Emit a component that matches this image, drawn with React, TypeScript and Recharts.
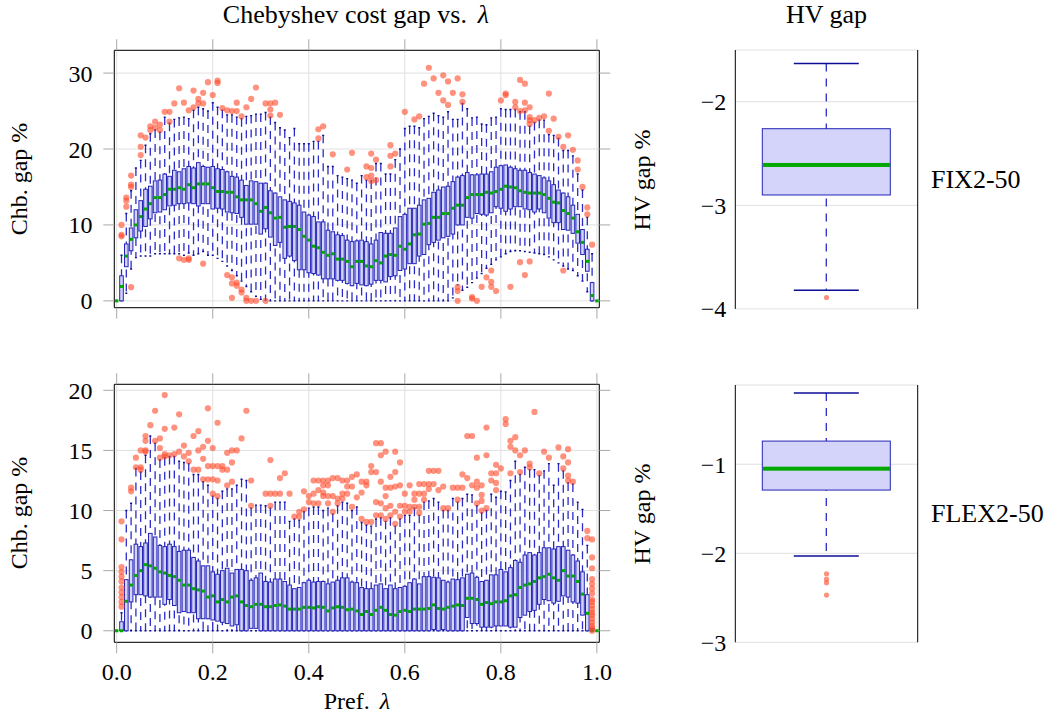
import React from "react";
import { ComposedChart, Bar, Line, Scatter, XAxis, YAxis, CartesianGrid } from "recharts";

// preference values (one box per value)
const lambdas = [
  0, 0.01, 0.02, 0.03, 0.04, 0.05, 0.06, 0.07, 0.08, 0.09,
  0.1, 0.11, 0.12, 0.13, 0.14, 0.15, 0.16, 0.17, 0.18, 0.19,
  0.2, 0.21, 0.22, 0.23, 0.24, 0.25, 0.26, 0.27, 0.28, 0.29,
  0.3, 0.31, 0.32, 0.33, 0.34, 0.35, 0.36, 0.37, 0.38, 0.39,
  0.4, 0.41, 0.42, 0.43, 0.44, 0.45, 0.46, 0.47, 0.48, 0.49,
  0.5, 0.51, 0.52, 0.53, 0.54, 0.55, 0.56, 0.57, 0.58, 0.59,
  0.6, 0.61, 0.62, 0.63, 0.64, 0.65, 0.66, 0.67, 0.68, 0.69,
  0.7, 0.71, 0.72, 0.73, 0.74, 0.75, 0.76, 0.77, 0.78, 0.79,
  0.8, 0.81, 0.82, 0.83, 0.84, 0.85, 0.86, 0.87, 0.88, 0.89,
  0.9, 0.91, 0.92, 0.93, 0.94, 0.95, 0.96, 0.97, 0.98, 0.99,
  1,
];
const xTicks = [0, 0.2, 0.4, 0.6, 0.8, 1];

// FIX2-50, Chebyshev gap %
const fixMin = [
  0, 0, 1.0, 4.2, 5.7, 5.9, 5.9, 5.9, 6.2, 6.2,
  6.2, 6.2, 6.2, 6.2, 6.0, 6.3, 6.0, 6.2, 6.5, 6.0,
  6.0, 5.6, 5.2, 4.6, 4.0, 3.3, 2.6, 1.9, 1.2, 0.6,
  0.2, 0.1, 0, 0, 0, 0, 0, 0, 0, 0,
  0, 0, 0, 0, 0, 0, 0, 0, 0, 0,
  0, 0, 0, 0, 0, 0, 0, 0, 0, 0,
  0, 0, 0, 0, 0, 0, 0, 0, 0, 0,
  0.4, 2.1, 1.4, 1.8, 2.4, 3.0, 3.6, 4.3, 4.8, 5.4,
  5.8, 6.2, 6.5, 6.6, 6.6, 6.5, 6.4, 6.3, 6.2, 6.1,
  5.8, 5.4, 5.0, 4.6, 4.2, 4.0, 3.3, 2.6, 1.2, 0,
  0,
];
const fixQ1 = [
  0, 0, 4.5, 6.6, 8.3, 9.2, 9.8, 10.8, 11.6, 11.7,
  12.0, 12.5, 12.6, 12.8, 12.8, 12.9, 12.8, 12.5, 12.8, 12.8,
  12.1, 12.2, 12.1, 11.7, 11.6, 11.5, 11.0, 10.1, 10.1, 10.1,
  8.8, 9.5, 8.4, 7.3, 7.7, 5.6, 5.9, 5.3, 4.1, 4.1,
  3.7, 3.6, 3.4, 2.9, 2.9, 2.9, 2.7, 2.7, 2.3, 2.0,
  2.3, 2.1, 2.0, 2.2, 2.7, 2.7, 2.5, 3.2, 3.3, 4.0,
  4.2, 4.9, 4.9, 5.9, 6.1, 7.4, 7.7, 8.0, 8.3, 8.5,
  8.8, 10.0, 10.0, 11.0, 10.9, 11.5, 11.4, 11.3, 11.6, 12.4,
  12.2, 11.8, 12.1, 12.4, 12.4, 12.1, 12.0, 11.7, 12.1, 11.6,
  10.9, 10.3, 10.3, 9.4, 9.3, 8.9, 7.6, 6.1, 3.9, 0,
  0,
];
const fixMed = [
  0, 1.9, 5.9, 8.1, 10.0, 11.1, 12.1, 12.8, 13.6, 13.6,
  14.0, 14.7, 14.7, 14.9, 14.7, 15.3, 14.9, 15.4, 15.4, 15.4,
  14.9, 14.4, 14.4, 14.3, 14.3, 13.7, 13.3, 13.3, 13.3, 12.8,
  11.8, 12.3, 11.6, 10.9, 11.0, 9.7, 9.8, 9.8, 9.4, 8.5,
  8.0, 7.2, 7.0, 6.4, 6.0, 6.2, 5.5, 5.5, 5.2, 4.5,
  5.2, 5.2, 4.6, 4.5, 5.3, 5.0, 5.9, 6.1, 6.0, 7.2,
  6.8, 7.5, 8.7, 8.8, 10.1, 10.2, 11.0, 11.0, 11.5, 11.5,
  12.2, 12.6, 12.6, 13.6, 14.0, 14.0, 14.0, 14.3, 14.2, 14.4,
  14.7, 15.1, 15.0, 14.9, 14.5, 14.3, 14.2, 14.2, 14.2, 14.0,
  13.5, 13.0, 12.9, 11.9, 11.5, 10.9, 9.1, 7.7, 5.2, 0.7,
  0,
];
const fixQ3 = [
  0, 3.3, 7.5, 9.6, 12.0, 13.2, 14.7, 15.1, 15.8, 15.9,
  16.7, 16.4, 17.2, 17.0, 17.4, 17.7, 17.5, 18.2, 17.7, 17.6,
  17.7, 17.4, 17.3, 17.0, 16.4, 16.3, 15.9, 15.2, 15.8, 15.7,
  15.5, 15.5, 14.5, 14.2, 13.7, 13.3, 13.1, 12.9, 12.6, 11.7,
  11.3, 11.1, 10.4, 10.4, 9.3, 9.1, 8.7, 8.6, 8.0, 7.8,
  7.9, 8.0, 7.8, 7.5, 8.0, 9.0, 8.9, 8.9, 9.6, 11.1,
  11.4, 12.2, 12.2, 12.6, 13.3, 13.5, 14.3, 14.6, 15.0, 15.1,
  15.7, 16.3, 16.5, 16.9, 16.6, 16.6, 16.7, 16.7, 17.0, 17.6,
  17.8, 17.9, 17.6, 17.4, 17.2, 17.2, 16.9, 16.7, 16.5, 16.2,
  15.8, 15.3, 14.6, 14.2, 13.7, 12.6, 11.4, 9.4, 6.8, 2.4,
  0,
];
const fixMax = [
  0, 6.0, 11.5, 14.5, 17.5, 18.5, 20.5, 22.0, 22.5, 22.2,
  24.2, 23.4, 23.9, 24.1, 24.2, 24.0, 25.1, 25.5, 25.3, 25.0,
  26.1, 25.5, 25.1, 24.5, 24.5, 24.2, 24.0, 24.3, 24.4, 24.6,
  24.6, 24.8, 24.2, 23.5, 22.8, 22.5, 21.5, 22.7, 20.7, 20.7,
  20.7, 21.0, 21.0, 21.8, 17.7, 17.7, 16.5, 16.3, 16.1, 15.9,
  15.5, 16.5, 15.9, 15.8, 18.1, 18.1, 16.7, 16.7, 18.6, 20.0,
  22.7, 23.0, 23.0, 22.8, 24.0, 24.3, 24.7, 24.4, 24.2, 24.9,
  23.9, 23.9, 26.0, 25.3, 24.1, 24.2, 23.3, 23.2, 24.1, 24.2,
  25.3, 25.2, 25.2, 25.2, 24.9, 24.9, 23.0, 23.5, 23.8, 23.8,
  21.9, 21.8, 21.4, 19.8, 19.8, 19.1, 16.7, 14.6, 11.0, 6.2,
  0,
];
const fixOutliers = [
  [0.01, 10.0], [0.01, 8.7], [0.01, 8.5], [0.02, 13.6], [0.02, 13.2], [0.02, 12.4],
  [0.03, 16.5], [0.03, 15.3], [0.03, 15.0], [0.03, 1.8], [0.05, 21.8], [0.05, 20.3],
  [0.05, 19.2], [0.06, 21.5], [0.07, 23.0], [0.07, 22.5], [0.08, 23.6], [0.08, 22.8],
  [0.09, 23.2], [0.09, 22.5], [0.1, 24.9], [0.11, 24.9], [0.11, 23.6], [0.12, 26.0],
  [0.13, 28.0], [0.14, 26.1], [0.15, 25.1], [0.16, 27.7], [0.16, 25.5], [0.17, 26.6],
  [0.17, 26.0], [0.18, 27.4], [0.18, 26.0], [0.19, 28.8], [0.2, 27.1], [0.21, 29.0],
  [0.21, 28.7], [0.22, 25.4], [0.23, 25.1], [0.24, 25.0], [0.25, 26.1], [0.25, 25.0],
  [0.26, 24.3], [0.27, 25.5], [0.28, 26.6], [0.29, 28.1], [0.31, 26.0], [0.32, 26.0],
  [0.32, 25.2], [0.32, 24.4], [0.33, 26.1], [0.34, 24.5],
  [0.42, 22.6], [0.42, 21.4], [0.43, 23.0], [0.45, 19.3], [0.48, 17.3], [0.49, 19.5],
  [0.52, 17.7], [0.52, 16.3], [0.53, 19.4], [0.53, 17.5], [0.53, 16.5], [0.53, 15.8],
  [0.54, 18.6], [0.54, 15.9], [0.57, 20.5], [0.57, 19.1], [0.57, 17.7], [0.58, 19.4],
  [0.6, 24.9], [0.62, 23.9], [0.63, 24.3], [0.64, 28.6], [0.65, 30.7], [0.66, 29.3],
  [0.67, 27.4], [0.68, 29.7], [0.68, 26.4], [0.69, 28.9], [0.69, 25.8], [0.7, 27.4],
  [0.71, 29.3], [0.72, 27.2], [0.72, 26.2], [0.8, 26.4], [0.81, 27.3], [0.81, 27.1],
  [0.83, 26.2], [0.83, 25.5], [0.84, 29.1], [0.84, 25.0], [0.85, 28.6], [0.85, 26.1],
  [0.85, 25.1], [0.86, 25.5], [0.86, 24.2], [0.86, 23.8], [0.86, 23.3], [0.87, 23.8],
  [0.88, 24.1], [0.89, 24.3], [0.9, 27.3], [0.9, 22.4], [0.91, 24.0], [0.92, 21.6],
  [0.93, 20.3], [0.94, 21.8], [0.95, 19.9], [0.96, 18.5], [0.96, 17.3], [0.97, 15.0],
  [0.98, 12.3], [0.98, 11.4], [0.99, 7.4],
  [0.13, 5.6], [0.14, 5.4], [0.15, 5.4], [0.15, 5.6], [0.18, 4.9], [0.23, 3.4],
  [0.24, 3.1], [0.24, 2.3], [0.24, 0.4], [0.25, 2.4], [0.25, 2.0], [0.26, 1.5],
  [0.26, 1.1], [0.27, 0.4], [0.27, 0], [0.28, 0], [0.29, 0], [0.31, 0],
  [0.71, 1.8], [0.71, 1.3], [0.71, 0], [0.74, 0.5], [0.74, 0.3], [0.75, 0],
  [0.76, 1.85], [0.77, 3.1], [0.78, 4.0], [0.78, 2.5], [0.78, 1.85], [0.79, 1.3],
  [0.82, 1.85], [0.84, 5.1], [0.85, 3.4], [0.86, 5.2], [0.93, 4.0],
];

// FLEX2-50, Chebyshev gap %
const flexMin = [
  0, 0, 0, 0, 0, 0, 0, 0, 0, 0,
  0, 0, 0, 0, 0, 0, 0, 0, 0, 0,
  0, 0, 0, 0, 0, 0, 0, 0, 0, 0,
  0, 0, 0, 0, 0, 0, 0, 0, 0, 0,
  0, 0, 0, 0, 0, 0, 0, 0, 0, 0,
  0, 0, 0, 0, 0, 0, 0, 0, 0, 0,
  0, 0, 0, 0, 0, 0, 0, 0, 0, 0,
  0, 0, 0, 0, 0, 0, 0, 0, 0, 0,
  0, 0, 0, 0, 0, 0, 0, 0, 0, 0,
  0, 0, 0, 0, 0, 0, 0, 0, 0, 0,
  0,
];
const flexQ1 = [
  0, 0, 0, 2.4, 3.0, 3.0, 2.9, 2.8, 2.8, 2.8,
  2.2, 2.6, 2.1, 1.5, 1.6, 1.5, 1.5, 1.0, 1.0, 1.0,
  0.9, 0.8, 0.7, 0.6, 0.4, 0.5, 0, 0, 0.2, 0.2,
  0, 0, 0, 0, 0, 0, 0, 0, 0, 0,
  0, 0, 0, 0, 0, 0, 0, 0, 0, 0,
  0, 0, 0, 0, 0, 0, 0, 0, 0, 0,
  0, 0, 0, 0, 0, 0, 0.1, 0, 0.1, 0,
  0, 0, 0, 1.1, 0.6, 0.6, 0.3, 0.3, 0.3, 0.4,
  0.4, 0.4, 0.3, 0.3, 1.1, 1.3, 1.6, 1.7, 2.2, 2.6,
  2.5, 2.3, 2.45, 2.9, 2.8, 2.4, 2.3, 1.3, 0, 0,
  0,
];
const flexMed = [
  0, 0, 2.45, 3.8, 4.6, 5.0, 5.5, 5.4, 5.2, 4.9,
  4.8, 4.6, 4.5, 4.2, 3.8, 3.8, 3.5, 3.4, 3.3, 2.8,
  2.9, 2.4, 2.6, 2.4, 2.8, 2.9, 2.4, 2.1, 2.0, 2.2,
  2.2, 2.0, 2.0, 2.1, 2.15, 2.05, 1.8, 1.8, 1.8, 1.95,
  1.95, 1.9, 2.0, 1.95, 1.65, 1.9, 2.0, 1.95, 1.75, 1.8,
  1.65, 1.35, 1.6, 1.35, 1.7, 1.95, 1.7, 1.35, 1.3, 1.6,
  1.7, 1.6, 1.8, 1.8, 1.8, 1.85, 2.15, 1.85, 1.8, 1.95,
  2.05, 2.15, 2.1, 2.7, 2.7, 2.6, 2.2, 2.35, 2.25, 2.4,
  2.4, 2.5, 2.9, 3.0, 3.6, 3.8, 3.9, 4.1, 4.4, 4.5,
  4.7, 4.4, 4.2, 5.0, 4.55, 4.55, 4.1, 3.05, 1.45, 0,
  0,
];
const flexQ3 = [
  0, 0.75, 4.25, 5.9, 7.2, 7.0, 7.3, 8.1, 7.8, 7.1,
  7.0, 7.2, 7.0, 6.6, 6.7, 6.7, 6.1, 5.8, 5.4, 5.4,
  4.9, 4.7, 5.0, 5.2, 4.8, 5.1, 5.1, 5.0, 4.2, 4.4,
  4.8, 4.1, 4.05, 4.3, 4.3, 4.1, 3.8, 3.5, 3.6, 4.0,
  4.2, 4.05, 4.1, 4.1, 3.9, 4.05, 4.2, 4.4, 4.4, 4.05,
  4.0, 3.6, 3.5, 3.5, 3.8, 3.9, 3.5, 3.8, 3.5, 3.6,
  3.7, 4.0, 4.3, 3.9, 4.5, 4.5, 4.45, 4.4, 4.2, 4.05,
  4.3, 4.25, 4.4, 4.7, 4.8, 4.45, 4.1, 4.2, 4.65, 4.65,
  5.1, 4.9, 5.25, 5.85, 5.7, 6.3, 6.5, 6.3, 6.5, 6.9,
  6.9, 6.8, 7.0, 7.0, 6.7, 6.3, 5.8, 4.9, 3.0, 0.2,
  0,
];
const flexMax = [
  0, 1.5, 10.0, 10.6, 13.5, 13.2, 14.6, 16.2, 15.6, 14.2,
  14.4, 14.5, 14.5, 14.1, 14.0, 13.9, 13.0, 13.0, 12.4, 12.1,
  11.2, 11.0, 11.6, 11.8, 11.8, 12.1, 12.6, 12.5, 10.2, 10.45,
  10.45, 10.4, 10.2, 10.7, 10.7, 10.7, 9.1, 9.3, 9.2, 9.9,
  10.2, 10.3, 10.3, 10.0, 10.2, 9.7, 10.4, 10.7, 10.6, 10.0,
  10.3, 9.0, 8.8, 8.7, 9.3, 9.4, 9.1, 9.4, 8.7, 9.3,
  9.6, 9.6, 10.2, 9.6, 10.7, 10.8, 11.0, 10.7, 10.0, 10.0,
  11.0, 10.7, 11.0, 11.35, 11.3, 10.4, 9.8, 10.0, 11.35, 11.1,
  11.6, 11.55, 12.5, 14.1, 13.0, 13.6, 13.4, 13.4, 12.9, 13.3,
  13.9, 12.1, 13.9, 13.3, 12.3, 12.2, 10.7, 10.1, 7.1, 0,
  0,
];
const flexOutliers = [
  [0.01, 9.1], [0.01, 7.6], [0.01, 5.3], [0.01, 4.9], [0.01, 4.5], [0.01, 4.1],
  [0.01, 3.6], [0.01, 3.2], [0.01, 2.8], [0.01, 2.4], [0.01, 2.0],
  [0.03, 11.9], [0.03, 11.6], [0.04, 14.4], [0.04, 13.6], [0.05, 15.0], [0.05, 13.6],
  [0.05, 13.4], [0.06, 16.2], [0.06, 15.8], [0.06, 15.0], [0.06, 14.9], [0.07, 17.1],
  [0.08, 18.3], [0.08, 15.8], [0.09, 16.0], [0.09, 15.2], [0.09, 14.4], [0.1, 19.6],
  [0.1, 16.8], [0.1, 14.7], [0.1, 14.5], [0.11, 14.6], [0.12, 16.9], [0.12, 14.7],
  [0.13, 18.0], [0.13, 14.9], [0.14, 15.4], [0.14, 14.5], [0.15, 14.8], [0.15, 14.1],
  [0.16, 16.2], [0.16, 13.4], [0.17, 16.6], [0.17, 15.0], [0.17, 13.4], [0.18, 15.3],
  [0.18, 14.3], [0.18, 12.6], [0.19, 18.5], [0.19, 15.8], [0.19, 13.7], [0.19, 12.6],
  [0.2, 15.2], [0.2, 13.7], [0.2, 12.6], [0.2, 11.4], [0.21, 17.3], [0.21, 13.7],
  [0.21, 12.5], [0.21, 11.2], [0.22, 13.7], [0.22, 13.4], [0.23, 14.8], [0.23, 13.4],
  [0.23, 12.1], [0.24, 15.0], [0.24, 14.0], [0.24, 12.4], [0.25, 15.0], [0.26, 16.0],
  [0.27, 18.3], [0.28, 12.5], [0.28, 10.4], [0.31, 11.4], [0.32, 14.2], [0.32, 11.4],
  [0.32, 10.4], [0.33, 11.4], [0.34, 12.7], [0.34, 11.4], [0.35, 13.1], [0.36, 11.4],
  [0.37, 9.5], [0.38, 9.9], [0.38, 9.5], [0.39, 11.6], [0.39, 10.1], [0.4, 11.2],
  [0.4, 10.7], [0.41, 12.5], [0.41, 11.4], [0.41, 10.6], [0.42, 12.5], [0.42, 11.7],
  [0.42, 10.6], [0.43, 12.5], [0.43, 12.1], [0.43, 11.5], [0.43, 11.2], [0.44, 12.5],
  [0.44, 12.1], [0.44, 11.2], [0.44, 10.6], [0.45, 12.7], [0.45, 11.2], [0.45, 9.9],
  [0.46, 12.7], [0.46, 11.0], [0.46, 10.6], [0.47, 12.5], [0.47, 11.4], [0.47, 11.0],
  [0.48, 12.5], [0.48, 12.0], [0.48, 11.4], [0.49, 12.8], [0.49, 12.0], [0.49, 10.3],
  [0.5, 13.0], [0.5, 11.1], [0.51, 12.4], [0.51, 11.5], [0.51, 9.3], [0.52, 12.4],
  [0.52, 12.1], [0.52, 9.05], [0.53, 13.7], [0.53, 13.2], [0.53, 9.05], [0.54, 15.6],
  [0.54, 13.2], [0.54, 10.7], [0.54, 9.6], [0.55, 15.6], [0.55, 14.6], [0.55, 12.4],
  [0.55, 10.6], [0.55, 9.6], [0.56, 14.9], [0.56, 11.9], [0.56, 11.2], [0.56, 10.2],
  [0.56, 9.3], [0.57, 12.8], [0.57, 11.9], [0.57, 10.4], [0.57, 9.6], [0.58, 14.9],
  [0.58, 13.2], [0.58, 12.0], [0.58, 9.9], [0.58, 8.9], [0.59, 14.0], [0.59, 12.1],
  [0.59, 10.4], [0.59, 9.5], [0.6, 11.4], [0.6, 10.4], [0.6, 9.9], [0.61, 12.1],
  [0.61, 10.3], [0.61, 9.9], [0.62, 11.4], [0.62, 10.9], [0.62, 10.3], [0.63, 12.2],
  [0.63, 11.4], [0.63, 10.3], [0.63, 9.8], [0.64, 12.2], [0.64, 11.4], [0.64, 10.9],
  [0.65, 13.3], [0.65, 12.2], [0.65, 11.8], [0.66, 13.3], [0.66, 12.2], [0.67, 13.3],
  [0.67, 11.7], [0.68, 12.0], [0.68, 10.2], [0.69, 10.2], [0.7, 11.9], [0.71, 11.9],
  [0.71, 10.9], [0.72, 13.0], [0.72, 11.9], [0.73, 16.2], [0.73, 12.7], [0.74, 16.2],
  [0.74, 12.1], [0.75, 14.4], [0.75, 12.4], [0.75, 11.9], [0.75, 10.6], [0.76, 12.1],
  [0.76, 11.3], [0.76, 10.8], [0.76, 10.0], [0.77, 16.9], [0.77, 14.6], [0.77, 10.2],
  [0.78, 13.1], [0.78, 12.5], [0.79, 13.8], [0.79, 13.1], [0.79, 12.3], [0.79, 11.7],
  [0.8, 13.5], [0.81, 17.6], [0.81, 17.2], [0.82, 15.8], [0.82, 15.3], [0.82, 13.1],
  [0.83, 16.1], [0.83, 15.0], [0.84, 14.6], [0.84, 13.2], [0.85, 15.0], [0.86, 13.9],
  [0.86, 13.6], [0.87, 18.2], [0.88, 13.1], [0.89, 14.9], [0.9, 14.4], [0.92, 15.25],
  [0.93, 14.5], [0.93, 13.5], [0.94, 15.1], [0.94, 14.0], [0.94, 12.9], [0.94, 12.5],
  [0.95, 12.4], [0.98, 8.3], [0.98, 7.7],
  [0.99, 7.6], [0.99, 6.1], [0.99, 5.2], [0.99, 4.3], [0.99, 3.9], [0.99, 3.5],
  [0.99, 3.1], [0.99, 2.6], [0.99, 2.4], [0.99, 2.1], [0.99, 1.8], [0.99, 1.5],
  [0.99, 1.3], [0.99, 1.0], [0.99, 0.7], [0.99, 0.4], [0.99, 0.2], [0.99, 0],
];

// HV gap %: min, q1, median, q3, max
const hvFixStats = [-3.82, -2.9, -2.61, -2.26, -1.63];
const hvFixOutliers = [-3.89];
const hvFlexStats = [-2.03, -1.29, -1.05, -0.74, -0.2];
const hvFlexOutliers = [-2.23, -2.29, -2.33, -2.47];

const SERIF = '"Liberation Serif", "Times New Roman", serif';
const GRID = "#e0e0e0";
const TICK = "#a8a8a8";
const BOX_FILL = "#d4d4fa";
const BOX_STROKE = "#2424b8";
const WHISKER = "#2a2ac8";
const CAP = "#0c0c96";
const MEDIAN = "#00a800";
const OUTLIER = "#ff4a2a";
const tickFont = { fontSize: 24, fontFamily: SERIF, fill: "#000" };
const X_DOMAIN = [-0.005, 1.005];

const rowsOf = (mins, q1s, meds, q3s, maxs) =>
  lambdas.map((x, i) => ({ x, whisk: [mins[i], maxs[i]], box: [q1s[i], q3s[i]], med: meds[i] }));

const whiskerShape = (capW: number, dash: string) => (p: any) => {
  const cx = p.x + p.width / 2;
  const top = Math.min(p.y, p.y + p.height);
  const bot = Math.max(p.y, p.y + p.height);
  if (!(bot - top > 0.01)) return <g />;
  return (
    <g>
      <line x1={cx} x2={cx} y1={top} y2={bot} stroke={WHISKER} strokeWidth={1.3} strokeDasharray={dash} />
      <line x1={cx - capW / 2} x2={cx + capW / 2} y1={top} y2={top} stroke={CAP} strokeWidth={1.4} />
      <line x1={cx - capW / 2} x2={cx + capW / 2} y1={bot} y2={bot} stroke={CAP} strokeWidth={1.4} />
    </g>
  );
};

const boxShape = (boxW: number) => (p: any) => {
  const cx = p.x + p.width / 2;
  const top = Math.min(p.y, p.y + p.height);
  const h = Math.abs(p.height);
  return <rect x={cx - boxW / 2} y={top} width={boxW} height={h} fill={BOX_FILL} stroke={BOX_STROKE} strokeWidth={1} />;
};

const medianDot = (boxW: number, thick: number) => (p: any) => (
  <rect key={`med-${p.index}`} x={p.cx - boxW / 2} y={p.cy - thick / 2} width={boxW} height={thick} fill={MEDIAN} />
);

const outlierDot = (r: number) => (p: any) => (
  <circle cx={p.cx} cy={p.cy} r={r} fill={OUTLIER} fillOpacity={0.6} />
);

function GapChart({ rows, outliers, yDomain, yTicks, height, margin, showX }) {
  const pts = outliers.map(([x, y]) => ({ x, y }));
  return (
    <ComposedChart width={620} height={height} data={rows} margin={margin}>
      <CartesianGrid xAxisId="num" yAxisId="y" stroke={GRID} />
      <XAxis
        xAxisId="num"
        dataKey="x"
        type="number"
        domain={X_DOMAIN}
        ticks={xTicks}
        interval={0}
        allowDataOverflow
        height={showX ? 40 : 15}
        axisLine={{ stroke: "#000" }}
        tickLine={{ stroke: TICK }}
        tickSize={11}
        tickMargin={9.7}
        tick={tickFont}
        tickFormatter={(v) => (showX ? v.toFixed(1) : "")}
      />
      <XAxis xAxisId="c1" dataKey="x" type="category" hide height={0} />
      <XAxis xAxisId="c2" dataKey="x" type="category" hide height={0} />
      <XAxis
        xAxisId="top"
        dataKey="x"
        orientation="top"
        type="number"
        domain={X_DOMAIN}
        ticks={xTicks}
        interval={0}
        allowDataOverflow
        height={15}
        axisLine={{ stroke: "#000" }}
        tickLine={{ stroke: TICK }}
        tickSize={11}
        tick={tickFont}
        tickFormatter={() => ""}
      />
      <YAxis
        yAxisId="y"
        type="number"
        domain={yDomain}
        ticks={yTicks}
        interval={0}
        allowDataOverflow
        width={60}
        axisLine={{ stroke: "#000" }}
        tickLine={{ stroke: TICK }}
        tickSize={11}
        tickMargin={10.9}
        tick={tickFont}
      />
      <YAxis
        yAxisId="yr"
        orientation="right"
        type="number"
        domain={yDomain}
        ticks={yTicks}
        interval={0}
        allowDataOverflow
        width={15}
        axisLine={{ stroke: "#000" }}
        tickLine={{ stroke: TICK }}
        tickSize={11}
        tickFormatter={() => ""}
      />
      <Bar xAxisId="c1" yAxisId="y" dataKey="whisk" barSize={4.8} shape={whiskerShape(2, "8 6")} isAnimationActive={false} />
      <Bar xAxisId="c2" yAxisId="y" dataKey="box" barSize={4.8} shape={boxShape(3.6)} isAnimationActive={false} />
      <Line xAxisId="c1" yAxisId="y" dataKey="med" stroke="none" dot={medianDot(3.4, 3)} activeDot={false} isAnimationActive={false} />
      <Scatter xAxisId="num" yAxisId="y" data={pts} dataKey="y" shape={outlierDot(3.1)} isAnimationActive={false} />
    </ComposedChart>
  );
}

const minusFmt = (v: number) => (v < 0 ? `\u2212${Math.abs(v)}` : `${v}`);

function HvChart({ name, stats, outliers, yDomain, yTicks, height, margin }) {
  const [lo, q1, med, q3, hi] = stats;
  const rows = [{ name, whisk: [lo, hi], box: [q1, q3], med }];
  const pts = outliers.map((y) => ({ name, y }));
  return (
    <ComposedChart width={300} height={height} data={rows} margin={margin}>
      <CartesianGrid xAxisId="c1" yAxisId="y" stroke={GRID} vertical={false} />
      <XAxis xAxisId="c1" dataKey="name" type="category" hide height={0} />
      <XAxis xAxisId="c2" dataKey="name" type="category" hide height={0} />
      <XAxis xAxisId="c3" dataKey="name" type="category" hide height={0} allowDuplicatedCategory={false} />
      <YAxis
        yAxisId="y"
        type="number"
        domain={yDomain}
        ticks={yTicks}
        interval={0}
        allowDataOverflow
        width={60}
        axisLine={{ stroke: "#000" }}
        tickLine={false}
        tickSize={0}
        tickMargin={9}
        tick={tickFont}
        tickFormatter={minusFmt}
      />
      <YAxis yAxisId="yr" orientation="right" type="number" domain={yDomain} allowDataOverflow width={1} axisLine={{ stroke: "#000" }} tick={false} tickLine={false} />
      <Bar xAxisId="c1" yAxisId="y" dataKey="whisk" barSize={128} shape={whiskerShape(65, "8 7")} isAnimationActive={false} />
      <Bar xAxisId="c2" yAxisId="y" dataKey="box" barSize={128} shape={boxShape(128)} isAnimationActive={false} />
      <Line xAxisId="c1" yAxisId="y" dataKey="med" stroke="none" dot={medianDot(127, 4)} activeDot={false} isAnimationActive={false} />
      <Scatter xAxisId="c3" yAxisId="y" data={pts} dataKey="y" shape={outlierDot(2.6)} isAnimationActive={false} />
    </ComposedChart>
  );
}

const textBase = { position: "absolute" as const, whiteSpace: "nowrap" as const, fontFamily: SERIF, color: "#000" };

function HText({ x, baseline, size, align = "center", children }) {
  return (
    <div
      style={{
        ...textBase,
        left: x,
        top: baseline - size * 0.8375,
        fontSize: size,
        lineHeight: `${size}px`,
        transform: align === "center" ? "translateX(-50%)" : undefined,
      }}
    >
      {children}
    </div>
  );
}

function VText({ cx, cy, size, children }) {
  return (
    <div
      style={{
        ...textBase,
        left: cx,
        top: cy,
        fontSize: size,
        lineHeight: `${size}px`,
        transform: "translate(-50%, -50%) rotate(-90deg)",
      }}
    >
      {children}
    </div>
  );
}

export default function App() {
  const fixRows = rowsOf(fixMin, fixQ1, fixMed, fixQ3, fixMax);
  const flexRows = rowsOf(flexMin, flexQ1, flexMed, flexQ3, flexMax);
  return (
    <div style={{ position: "fixed", left: 0, top: 0, width: 1050, height: 717, background: "#fff", overflow: "hidden" }}>
      <div style={{ position: "absolute", left: 0, top: 0 }}>
        <GapChart
          rows={fixRows}
          outliers={fixOutliers}
          yDomain={[-0.9, 33]}
          yTicks={[0, 10, 20, 30]}
          height={330}
          margin={{ top: 35.3, right: 5.7, bottom: 7.3, left: 54.3 }}
          showX={false}
        />
      </div>
      <div style={{ position: "absolute", left: 0, top: 340 }}>
        <GapChart
          rows={flexRows}
          outliers={flexOutliers}
          yDomain={[-0.96, 20.5]}
          yTicks={[0, 5, 10, 15, 20]}
          height={377}
          margin={{ top: 29.3, right: 5.7, bottom: 34.7, left: 54.3 }}
          showX
        />
      </div>
      <div style={{ position: "absolute", left: 620, top: 0 }}>
        <HvChart
          name="FIX2-50"
          stats={hvFixStats}
          outliers={hvFixOutliers}
          yDomain={[-4, -1.5]}
          yTicks={[-4, -3, -2]}
          height={330}
          margin={{ top: 50, right: 1.3, bottom: 21.1, left: 55.3 }}
        />
      </div>
      <div style={{ position: "absolute", left: 620, top: 340 }}>
        <HvChart
          name="FLEX2-50"
          stats={hvFlexStats}
          outliers={hvFlexOutliers}
          yDomain={[-3, -0.11]}
          yTicks={[-3, -2, -1]}
          height={377}
          margin={{ top: 45, right: 1.3, bottom: 74.7, left: 55.3 }}
        />
      </div>

      <HText x={356} baseline={23.3} size={26}>
        Chebyshev cost gap vs.<i style={{ marginLeft: "0.42em" }}>λ</i>
      </HText>
      <HText x={826.5} baseline={23.3} size={26}>
        HV gap
      </HText>
      <HText x={931} baseline={188.3} size={26} align="left">
        FIX2-50
      </HText>
      <HText x={931} baseline={522.3} size={26} align="left">
        FLEX2-50
      </HText>
      <HText x={357} baseline={709} size={24}>
        Pref.<i style={{ marginLeft: "0.42em" }}>λ</i>
      </HText>
      <VText cx={18.5} cy={179} size={24}>
        Chb. gap %
      </VText>
      <VText cx={18.5} cy={513} size={24}>
        Chb. gap %
      </VText>
      <VText cx={642} cy={180} size={24}>
        HV gap %
      </VText>
      <VText cx={642} cy={514} size={24}>
        HV gap %
      </VText>
    </div>
  );
}
